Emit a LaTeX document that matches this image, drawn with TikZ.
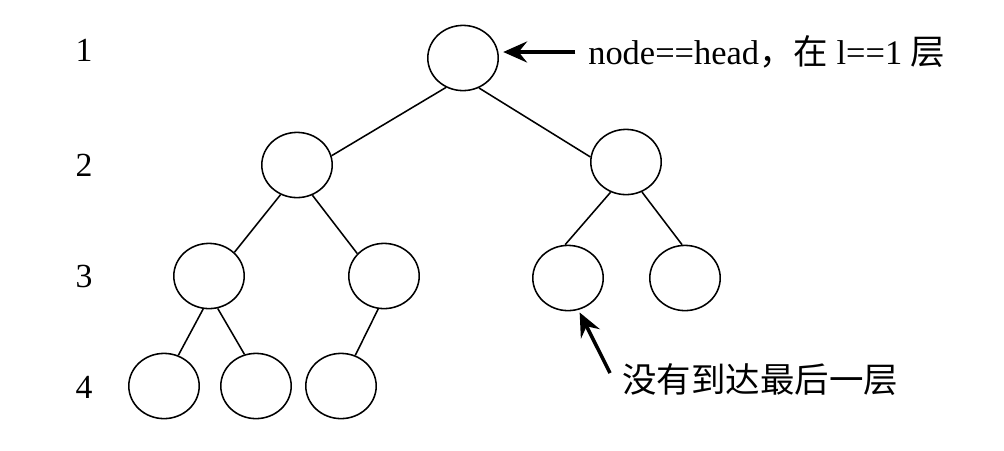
\documentclass[tikz,border=0pt]{standalone}
\usepackage{fontspec}
\setmainfont{Liberation Serif}
\newfontfamily\cjk{Noto Sans CJK SC}
\usetikzlibrary{shapes.geometric,arrows.meta}

\tikzset{
  treenode/.style={ellipse, draw, line width=1.1pt, minimum width=1.76cm, minimum height=1.63cm, inner sep=0pt},
  branch/.style={line width=1.1pt},
  ptr/.style={-{Stealth[length=17pt,width=15pt,inset=6pt]}, line width=2.5pt},
  levelno/.style={font=\fontsize{24}{28}\selectfont},
  note/.style={font=\fontsize{24.5}{28}\selectfont, inner sep=0pt, anchor=west},
}

\begin{document}
\begin{tikzpicture}[x=0.025cm, y=-0.025cm]
  \useasboundingbox (0,0) rectangle (1004,450);
  % level numbers
  \node[levelno] (lv1) at (84,50) {1};
  \node[levelno] (lv2) at (84,165) {2};
  \node[levelno] (lv3) at (84,276) {3};
  \node[levelno] (lv4) at (84,387) {4};
  % tree
  \node[treenode] (root) at (463,58) {};
  \node[treenode] (l) at (297,165) {};
  \node[treenode] (r) at (626,162) {};
  \node[treenode] (ll) at (209,276) {};
  \node[treenode] (lr) at (384,276) {};
  \node[treenode] (rl) at (568,278) {};
  \node[treenode] (rr) at (685,278) {};
  \node[treenode] (lll) at (164,386) {};
  \node[treenode] (llr) at (256,386) {};
  \node[treenode] (lrl) at (341,386) {};
  \draw[branch] (root.-120) -- (l.15);
  \draw[branch] (root.-62) -- (r.172);
  \draw[branch] (l.-119) -- (ll.43);
  \draw[branch] (l.-63) -- (lr.140);
  \draw[branch] (r.-117) -- (rl.95);
  \draw[branch] (r.-62) -- (rr.95);
  \draw[branch] (ll.-100) -- (lll.65);
  \draw[branch] (ll.-75) -- (llr.110);
  \draw[branch] (lr.-100) -- (lrl.65);
  % notes
  \node[note] (head) at (588,52) {node==head{\cjk ，在} l==1 {\cjk 层}};
  \node[note] (last) at (622,380) {\cjk 没有到达最后一层};
  \coordinate (tail) at (610,373);
  \draw[ptr, shorten <=9pt, shorten >=3pt] (head.west) -- (head.west -| root.east);
  \draw[ptr, shorten >=2pt] (tail) -- (rl.-72);
\end{tikzpicture}
\end{document}
